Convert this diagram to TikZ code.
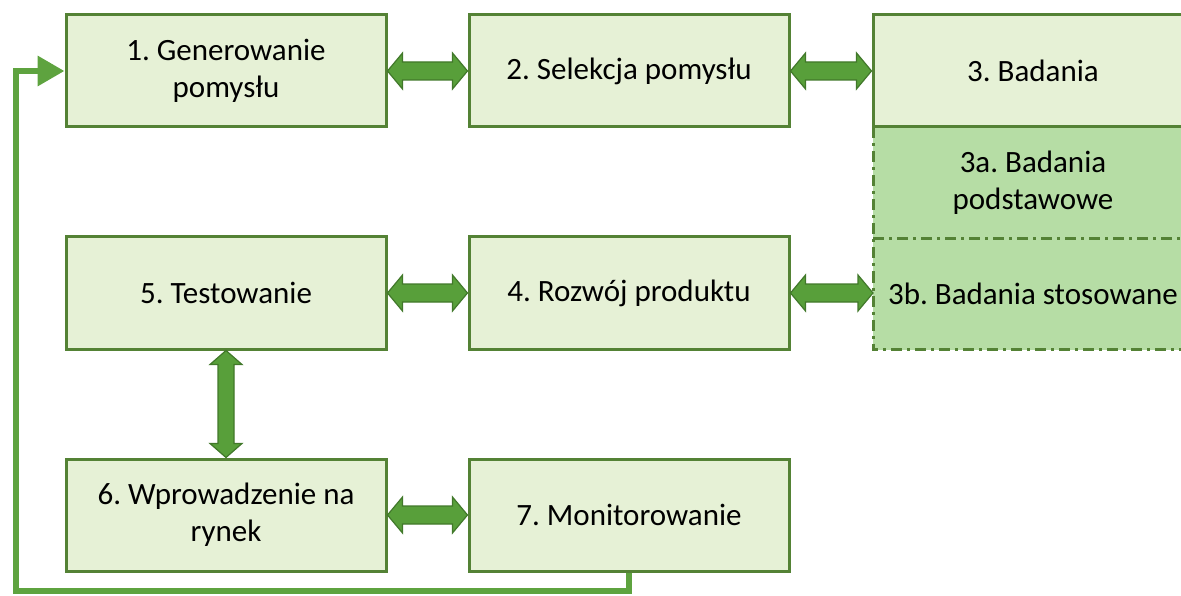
\documentclass[tikz,border=0pt]{standalone}
\usepackage{fontspec}
\setmainfont{Carlito}
\frenchspacing
\usetikzlibrary{calc,arrows.meta}
\definecolor{boxfill}{HTML}{E6F1D6}
\definecolor{subfill}{HTML}{B6DDA5}
\definecolor{boxline}{HTML}{548235}
\definecolor{arrowfill}{HTML}{589F3A}
\definecolor{arrowline}{HTML}{41782A}
\definecolor{feedline}{HTML}{5EA33F}

% horizontal double block arrow between the east side of #1 and the west side of #2
\newcommand\hblockarrow[2]{%
  \draw[blockarrow] let \p1=(#1.east), \p2=(#2.west) in
    (\x1,\y1) -- (\x1+15pt,\y1-18pt) -- (\x1+15pt,\y1-9pt) -- (\x2-15pt,\y1-9pt)
    -- (\x2-15pt,\y1-18pt) -- (\x2,\y1) -- (\x2-15pt,\y1+18pt) -- (\x2-15pt,\y1+9pt)
    -- (\x1+15pt,\y1+9pt) -- (\x1+15pt,\y1+18pt) -- cycle;}
% vertical double block arrow between the south side of #1 and the north side of #2
\newcommand\vblockarrow[2]{%
  \draw[blockarrow] let \p1=(#1.south), \p2=(#2.north) in
    (\x1,\y1) -- (\x1+16pt,\y1-14pt) -- (\x1+8pt,\y1-14pt) -- (\x1+8pt,\y2+14pt)
    -- (\x1+16pt,\y2+14pt) -- (\x1,\y2) -- (\x1-16pt,\y2+14pt) -- (\x1-8pt,\y2+14pt)
    -- (\x1-8pt,\y1-14pt) -- (\x1-16pt,\y1-14pt) -- cycle;}

\begin{document}
\begin{tikzpicture}[x=1pt,y=-1pt,
  stage/.style={draw=boxline, line width=3pt, fill=boxfill, minimum width=320pt,
    minimum height=112pt, inner sep=0pt, align=center,
    font=\fontsize{31}{37}\selectfont},
  substage/.style={fill=subfill, minimum width=320pt, minimum height=111pt,
    inner sep=0pt, outer sep=0pt, align=center,
    font=\fontsize{31}{37}\selectfont},
  subborder/.style={draw=boxline, line width=3pt,
    dash pattern=on 11pt off 5pt on 3pt off 5pt},
  blockarrow/.style={fill=arrowfill, draw=arrowline, line width=1.2pt, line join=miter},
  feedback/.style={draw=feedline, line width=6.5pt},
]
\useasboundingbox (0,0) rectangle (1181,596);
\begin{scope}
\clip (0,0) rectangle (1181,596);

% research sub-stages below stage 3
\node[substage] (m3a) at (1033,183) {3a. Badania\\podstawowe};
\node[substage] (m3b) at (1033,294) {3b. Badania stosowane};
\draw[subborder] (m3a.north west) -- (m3b.south west) -- (m3b.south east);
\draw[subborder] (m3b.north west) -- (m3b.north east);

% main stages
\node[stage] (m1) at (226,71)  {1. Generowanie\\pomysłu};
\node[stage] (m2) at (629,71)  {2. Selekcja pomysłu};
\node[stage] (m3) at (1033,71) {3. Badania};
\node[stage] (m5) at (226,293) {5. Testowanie};
\node[stage] (m4) at (629,293) {4. Rozwój produktu};
\node[stage] (m6) at (226,515) {6. Wprowadzenie na\\rynek};
\node[stage] (m7) at (629,515) {7. Monitorowanie};

% links between stages
\hblockarrow{m1}{m2}
\hblockarrow{m2}{m3}
\hblockarrow{m5}{m4}
\hblockarrow{m4}{m3b}
\hblockarrow{m6}{m7}
\vblockarrow{m5}{m6}

% feedback from monitoring back to idea generation
\coordinate (corner) at (16,591);
\draw[feedback, -{Triangle[width=29pt,length=27pt]}]
  (m7.south) |- (corner) |- (m1.west);
\end{scope}
\end{tikzpicture}
\end{document}
